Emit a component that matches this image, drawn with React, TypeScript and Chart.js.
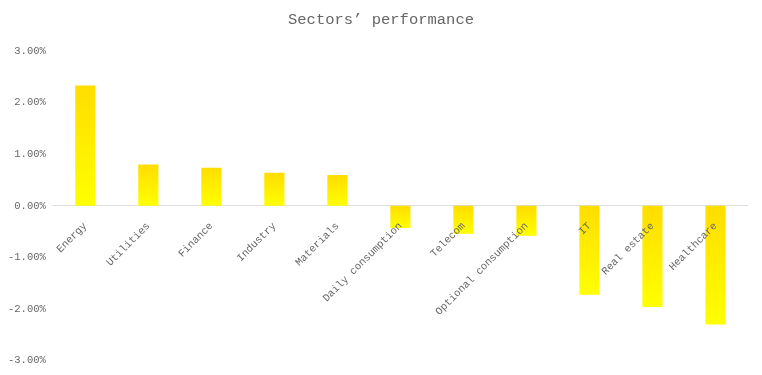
import React, { useEffect, useRef } from "react";
import { Chart, registerables } from "chart.js";

Chart.register(...registerables);

const categories = [
  "Energy",
  "Utilities",
  "Finance",
  "Industry",
  "Materials",
  "Daily consumption",
  "Telecom",
  "Optional consumption",
  "IT",
  "Real estate",
  "Healthcare",
];
const performance = [2.33, 0.8, 0.74, 0.64, 0.6, -0.43, -0.54, -0.58, -1.72, -1.96, -2.3];
const yMin = -3;
const yMax = 3;
const yStep = 1;
const titleText = "Sectors\u2019 performance";

const FONT = "'Liberation Mono', 'DejaVu Sans Mono', monospace";

const centeredTitle = {
  id: "centeredTitle",
  afterDraw(chart: any) {
    const ctx = chart.ctx;
    ctx.save();
    ctx.font = `normal 15.5px ${FONT}`;
    ctx.fillStyle = "#666";
    ctx.textAlign = "center";
    ctx.textBaseline = "middle";
    ctx.fillText(titleText, chart.width / 2, 20);
    ctx.restore();
  },
};

export default function App() {
  const ref = useRef<HTMLCanvasElement | null>(null);
  useEffect(() => {
    if (!ref.current) return;
    const chart = new Chart(ref.current, {
      type: "bar",
      data: {
        labels: categories,
        datasets: [
          {
            data: performance,
            barPercentage: 0.32,
            categoryPercentage: 1,
            borderWidth: 0,
            backgroundColor: (ctx: any) => {
              const c = ctx.chart;
              const ys = c.scales && c.scales.y;
              if (!c.chartArea || !ys || ctx.type !== "data") return "#ffee00";
              const p0 = ys.getPixelForValue(0);
              const p1 = ys.getPixelForValue(ctx.raw as number);
              const top = Math.min(p0, p1);
              const bot = Math.max(p0, p1) + 0.01;
              const g = c.ctx.createLinearGradient(0, top, 0, bot);
              g.addColorStop(0, "#ffdd00");
              g.addColorStop(1, "#ffff00");
              return g;
            },
          },
        ],
      },
      options: {
        animation: false,
        responsive: true,
        maintainAspectRatio: false,
        layout: { padding: { left: 0, right: 15, top: 51, bottom: 9 } },
        plugins: {
          legend: { display: false },
          tooltip: { enabled: false },
          title: { display: false },
        },
        scales: {
          x: {
            position: { y: 0 } as any,
            grid: { display: false, drawTicks: true, tickLength: 6 },
            border: { display: true, color: "#dddddd", width: 1 },
            ticks: {
              z: 1,
              color: "#666",
              font: { family: FONT, size: 10.5 },
              minRotation: 45,
              maxRotation: 45,
              autoSkip: false,
              padding: 8,
            },
            afterFit: (scale: any) => {
              scale.paddingLeft = 0;
              scale.paddingRight = 0;
            },
          },
          y: {
            min: yMin,
            max: yMax,
            grid: { display: false, drawTicks: false, tickLength: 0 },
            border: { display: false },
            ticks: {
              stepSize: yStep,
              color: "#666",
              font: { family: FONT, size: 10.5 },
              padding: 8,
              callback: (v: any) => Number(v).toFixed(2) + "%",
            },
          },
        },
      },
      plugins: [centeredTitle],
    });
    return () => chart.destroy();
  }, []);
  return (
    <div style={{ position: "absolute", left: 0, top: 0, width: 762, height: 375 }}>
      <canvas ref={ref} />
    </div>
  );
}
